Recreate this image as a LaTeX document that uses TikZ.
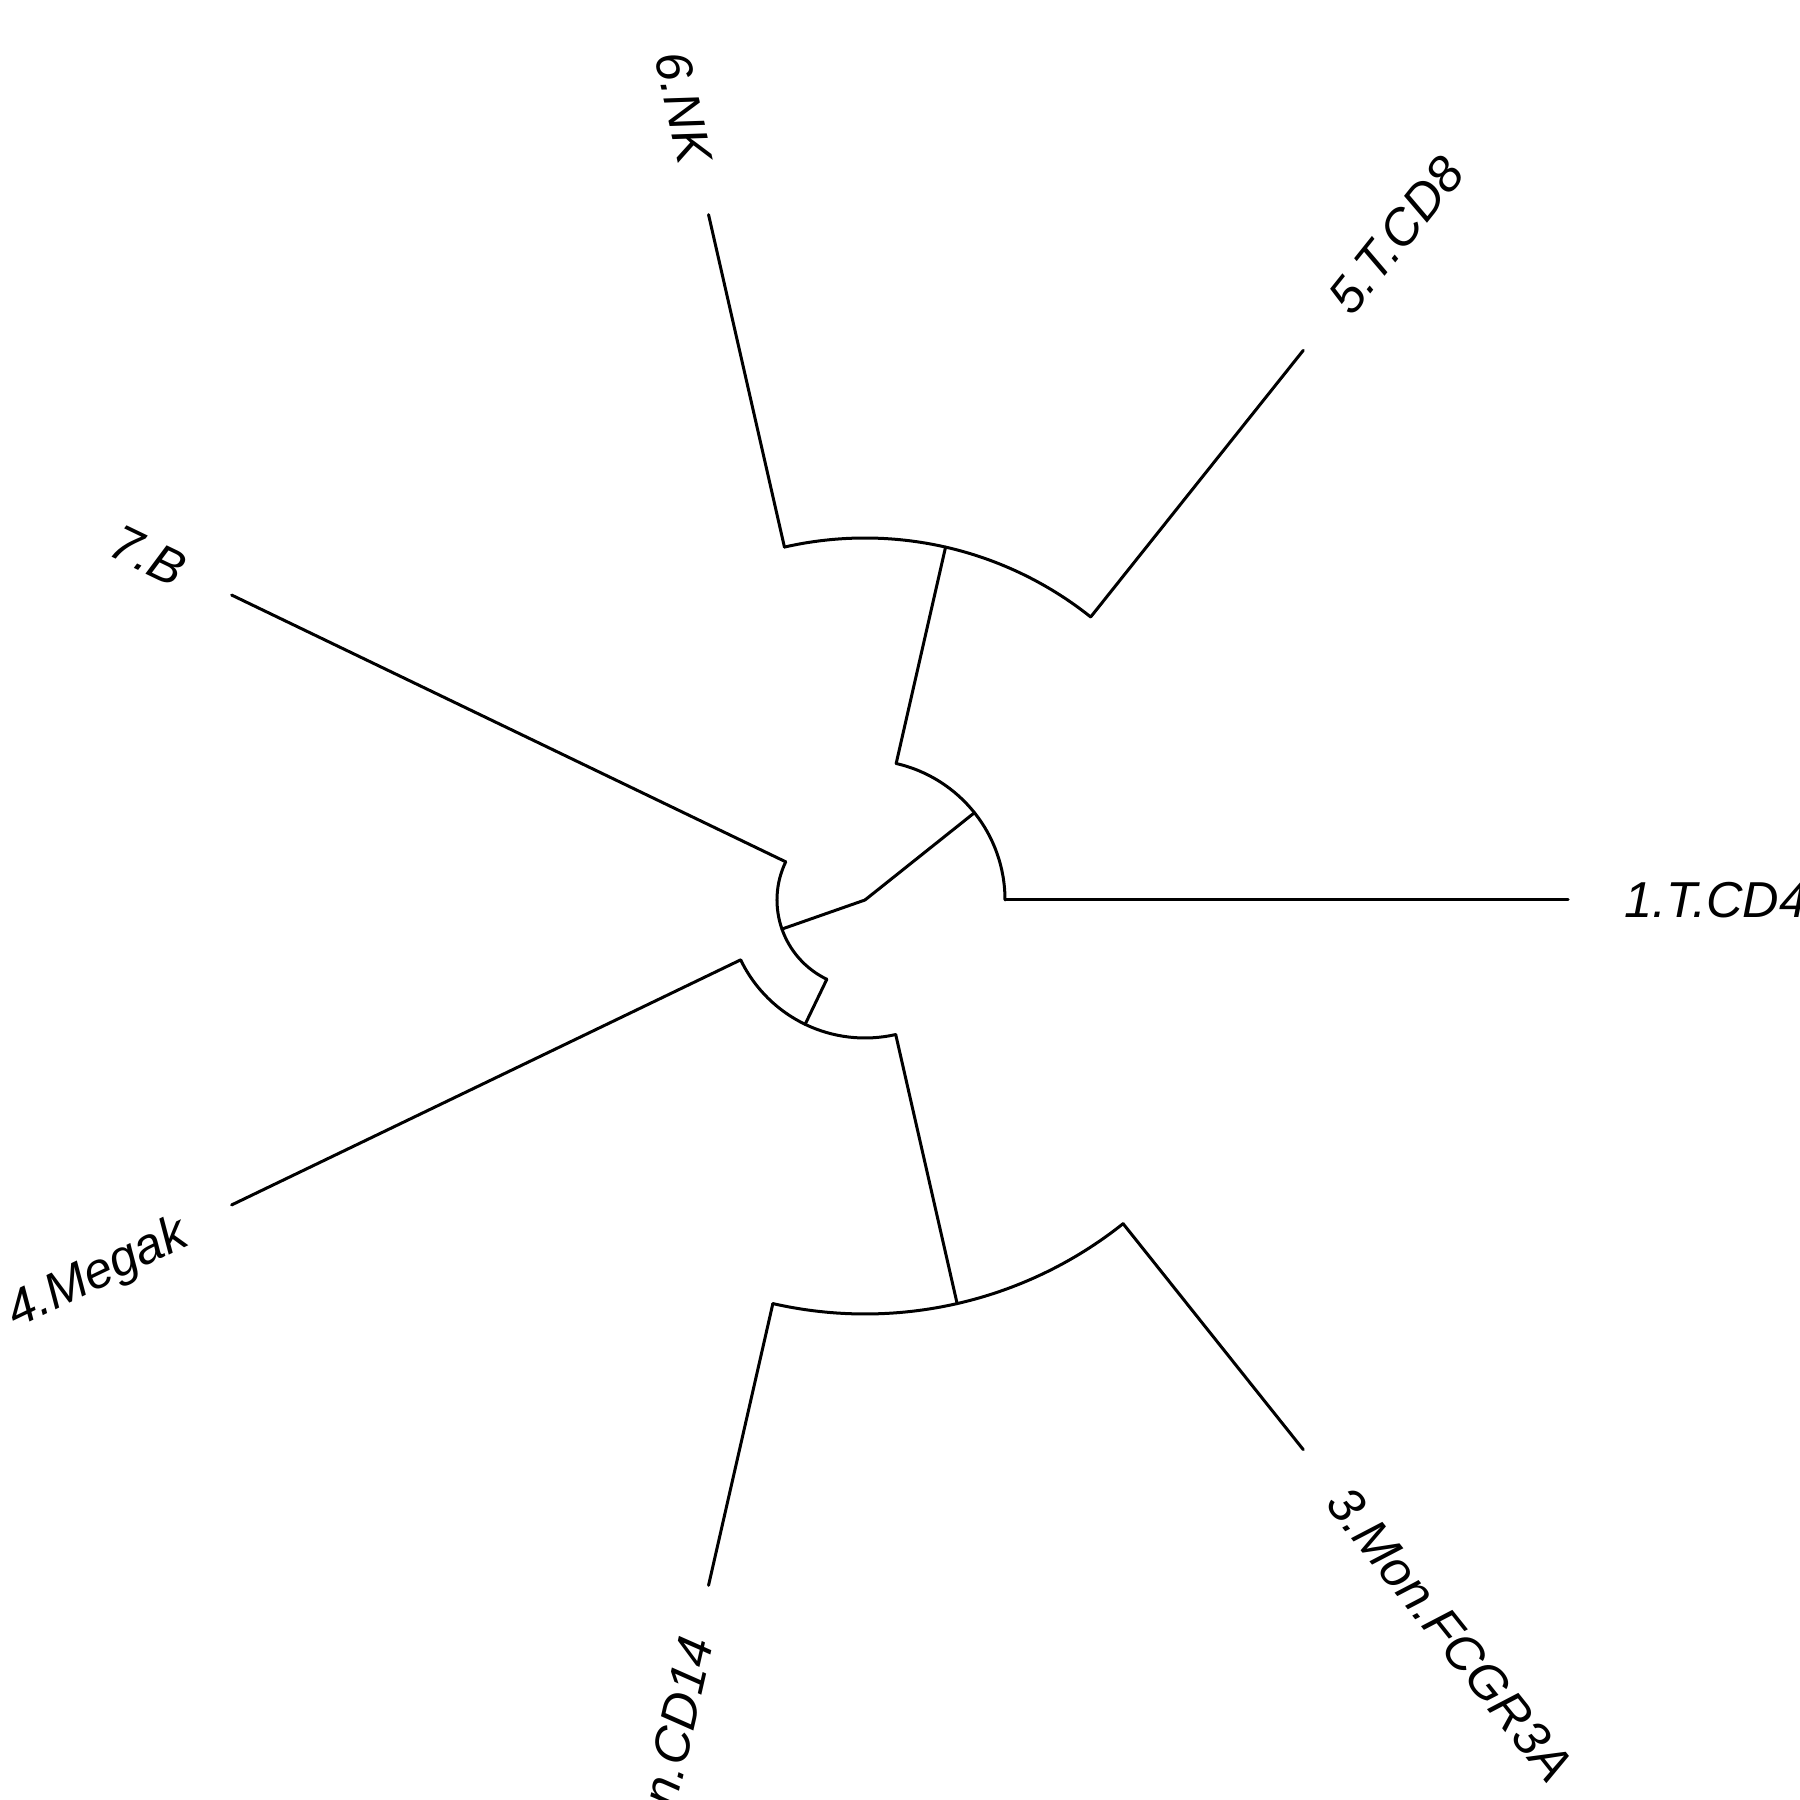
\documentclass[tikz,border=0pt]{standalone}
\usepackage{fontspec}
\setmainfont{Liberation Sans}
\usetikzlibrary{calc}
\begin{document}
\begin{tikzpicture}[x=1pt,y=1pt,
  branch/.style={line width=3pt, line cap=round, line join=round, draw=black},
  tiplabel/.style={inner sep=0pt, outer sep=0pt, font=\fontsize{50.5}{58}\selectfont\itshape}]
\useasboundingbox (0,0) rectangle (1800,1800);
\begin{scope}[shift={(865,900)}]
% internal nodes and arc ends
\coordinate (root) at (0,0);
\coordinate (A)  at (38.57:140);
\coordinate (A0) at (0:140);
\coordinate (A1) at (77.14:140);
\coordinate (B)  at (77.14:362);
\coordinate (B5) at (51.43:362);
\coordinate (B6) at (102.86:362);
\coordinate (C)  at (199.29:88);
\coordinate (C7) at (154.29:88);
\coordinate (CD) at (244.29:88);
\coordinate (D)  at (244.29:138);
\coordinate (D4) at (205.71:138);
\coordinate (DE) at (282.86:138);
\coordinate (E)  at (282.86:414);
\coordinate (E2) at (257.14:414);
\coordinate (E3) at (308.57:414);
% tips
\coordinate (t1) at (0:703);
\coordinate (t5) at (51.43:703);
\coordinate (t6) at (102.86:703);
\coordinate (t7) at (154.29:703);
\coordinate (t4) at (205.71:703);
\coordinate (t2) at (257.14:703);
\coordinate (t3) at (308.57:703);
% branches
\draw[branch] (root) -- (A);
\draw[branch] (root) -- (C);
\draw[branch] (A0) arc[start angle=0, end angle=77.14, radius=140pt];
\draw[branch] (A0) -- (t1);
\draw[branch] (A1) -- (B);
\draw[branch] (B5) arc[start angle=51.43, end angle=102.86, radius=362pt];
\draw[branch] (B5) -- (t5);
\draw[branch] (B6) -- (t6);
\draw[branch] (C7) arc[start angle=154.29, end angle=244.29, radius=88pt];
\draw[branch] (C7) -- (t7);
\draw[branch] (CD) -- (D);
\draw[branch] (D4) arc[start angle=205.71, end angle=282.86, radius=138pt];
\draw[branch] (D4) -- (t4);
\draw[branch] (DE) -- (E);
\draw[branch] (E2) arc[start angle=257.14, end angle=308.57, radius=414pt];
\draw[branch] (E2) -- (t2);
\draw[branch] (E3) -- (t3);
% labels
\node[tiplabel, anchor=base west, rotate=0] (l1) at ($(0:759)+(-90:18)$) {1.T.CD4};
\node[tiplabel, anchor=base west, rotate=51.43] (l5) at ($(51.43:759)+(-38.57:18)$) {5.T.CD8};
\node[tiplabel, anchor=base west, rotate=308.57] (l3) at ($(308.57:759)+(218.57:18)$) {3.Mon.FCGR3A};
\node[tiplabel, anchor=base east, rotate=282.86] (l6) at ($(102.86:757)+(192.86:18)$) {6.NK};
\node[tiplabel, anchor=base east, rotate=334.29] (l7) at ($(154.29:757)+(244.29:18)$) {7.B};
\node[tiplabel, anchor=base east, rotate=25.71] (l4) at ($(205.71:757)+(295.71:18)$) {4.Megak};
\node[tiplabel, anchor=base east, rotate=77.14] (l2) at ($(257.14:757)+(347.14:18)$) {2.Mon.CD14};
\end{scope}
\end{tikzpicture}
\end{document}
